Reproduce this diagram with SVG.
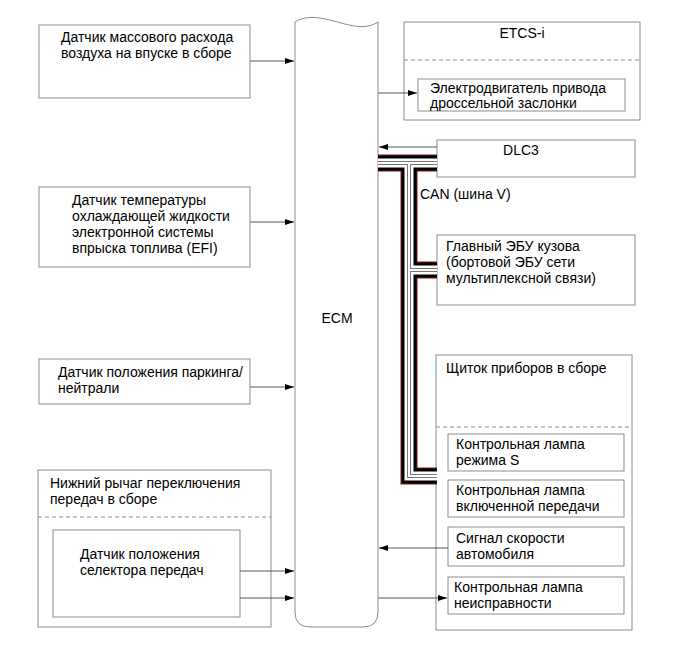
<svg xmlns="http://www.w3.org/2000/svg" width="691" height="660" viewBox="0 0 691 660">
<defs>
<marker id="ah" markerWidth="10" markerHeight="8" refX="9" refY="4" orient="auto" markerUnits="userSpaceOnUse">
<path d="M0,1 L9,4 L0,7 Z" fill="#000"/>
</marker>
<style>
.box{fill:#fff;stroke:#8c8c8c;stroke-width:1}
.dash{stroke:#8c8c8c;stroke-width:1;stroke-dasharray:4,3;fill:none}
.t{font-family:"Liberation Sans",Arial,sans-serif;font-size:14px;fill:#000}
.c{stroke:#555;stroke-width:1;fill:none;marker-end:url(#ah)}
.b1{stroke:#7a1a1a;stroke-width:17;fill:none}
.b2{stroke:#000;stroke-width:15;fill:none}
.b3{stroke:#fff;stroke-width:9;fill:none}
.b4{stroke:#777;stroke-width:4;fill:none}
.b5{stroke:#fff;stroke-width:2;fill:none}
</style>
</defs>
<rect width="691" height="660" fill="#fff"/>

<g id="ecm">
<path class="box" d="M295,22 C320,6 355,38 378,22 L378,612 Q378,627 363,627 L310,627 Q295,627 295,612 Z"/>
<text class="t" x="337" y="323" text-anchor="middle">ECM</text>
</g>

<g id="maf">
<rect class="box" x="39" y="25" width="211" height="73"/>
<text class="t" x="61" y="42">Датчик массового расхода</text>
<text class="t" x="61" y="58">воздуха на впуске в сборе</text>
</g>

<g id="ect">
<rect class="box" x="39" y="187" width="211" height="80"/>
<text class="t" x="72" y="205">Датчик температуры</text>
<text class="t" x="72" y="221">охлаждающей жидкости</text>
<text class="t" x="72" y="237">электронной системы</text>
<text class="t" x="72" y="253">впрыска топлива (EFI)</text>
</g>

<g id="pn">
<rect class="box" x="39" y="359" width="211" height="45"/>
<text class="t" x="58" y="377">Датчик положения паркинга/</text>
<text class="t" x="58" y="393">нейтрали</text>
</g>

<g id="shift">
<rect class="box" x="38" y="470" width="233" height="157"/>
<text class="t" x="50" y="488">Нижний рычаг переключения</text>
<text class="t" x="50" y="504">передач в сборе</text>
<line class="dash" x1="38" y1="517" x2="271" y2="517"/>
<rect class="box" x="53" y="530" width="187" height="87"/>
<text class="t" x="80" y="559">Датчик положения</text>
<text class="t" x="80" y="575">селектора передач</text>
</g>

<g id="etcs">
<rect class="box" x="404" y="22" width="236" height="98"/>
<text class="t" x="522" y="38" text-anchor="middle">ETCS-i</text>
<line class="dash" x1="404" y1="60" x2="640" y2="60"/>
<rect class="box" x="418" y="79" width="207" height="32"/>
<text class="t" x="430" y="93">Электродвигатель привода</text>
<text class="t" x="430" y="108">дроссельной заслонки</text>
</g>

<g id="dlc3">
<rect class="box" x="437" y="140" width="198" height="37"/>
<text class="t" x="521" y="155" text-anchor="middle">DLC3</text>
</g>

<g id="body">
<rect class="box" x="437" y="235" width="198" height="70"/>
<text class="t" x="446" y="251">Главный ЭБУ кузова</text>
<text class="t" x="446" y="267">(бортовой ЭБУ сети</text>
<text class="t" x="446" y="283">мультиплексной связи)</text>
</g>

<g id="cluster">
<rect class="box" x="436" y="355" width="196" height="275"/>
<text class="t" x="446" y="373">Щиток приборов в сборе</text>
<line class="dash" x1="436" y1="427" x2="632" y2="427"/>
<rect class="box" x="448" y="434" width="176" height="37"/>
<text class="t" x="456" y="449">Контрольная лампа</text>
<text class="t" x="456" y="465">режима S</text>
<rect class="box" x="448" y="480" width="176" height="37"/>
<text class="t" x="456" y="495">Контрольная лампа</text>
<text class="t" x="456" y="511">включенной передачи</text>
<rect class="box" x="448" y="527" width="176" height="39"/>
<text class="t" x="456" y="543">Сигнал скорости</text>
<text class="t" x="456" y="559">автомобиля</text>
<rect class="box" x="448" y="577" width="176" height="37"/>
<text class="t" x="454" y="592">Контрольная лампа</text>
<text class="t" x="454" y="608">неисправности</text>
</g>

<g id="connectors">
<line class="c" x1="250" y1="61" x2="294" y2="61"/>
<line class="c" x1="250" y1="222" x2="294" y2="222"/>
<line class="c" x1="250" y1="387" x2="294" y2="387"/>
<line class="c" x1="240" y1="571" x2="294" y2="571"/>
<line class="c" x1="240" y1="598" x2="294" y2="598"/>
<line class="c" x1="378" y1="93" x2="417" y2="93"/>
<line class="c" x1="437" y1="147" x2="379" y2="147"/>
<line class="c" x1="448" y1="548" x2="379" y2="548"/>
<line class="c" x1="378" y1="598" x2="447" y2="598"/>
<g id="can">
<path class="b1" d="M378,163 H437 M409,163 V476 H437 M409,270 H437"/>
<path class="b2" d="M378,163 H437 M409,163 V476 H437 M409,270 H437"/>
<path class="b3" d="M378,163 H437 M409,163 V476 H437 M409,270 H437"/>
<path class="b4" d="M378,163 H437 M409,163 V476 H437 M409,270 H437"/>
<path class="b5" d="M378,163 H437 M409,163 V476 H437 M409,270 H437"/>
</g>
<text class="t" x="420" y="199">CAN (шина V)</text>
</g>
</svg>
